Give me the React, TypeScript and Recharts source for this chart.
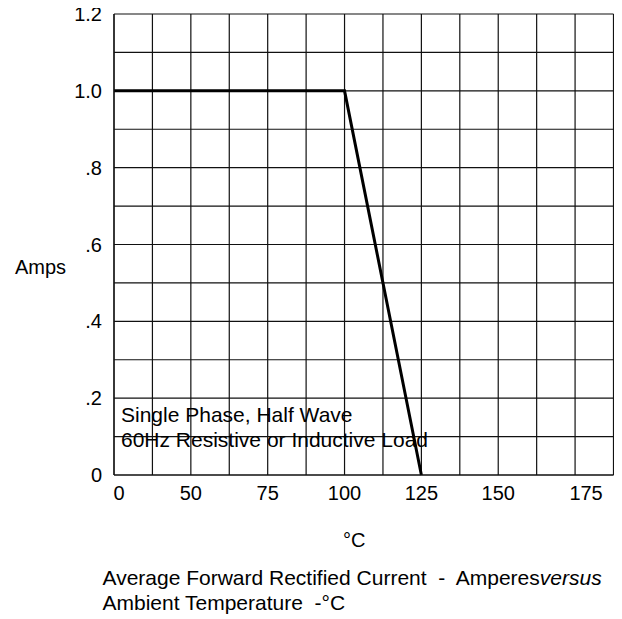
import { LineChart, Line, XAxis, YAxis, CartesianGrid } from 'recharts';

// derating curve: current vs ambient temperature
const temps = [25, 100, 125];
const amps = [1.0, 1.0, 0];

// grid steps (12.5 °C, 0.1 A)
const xGrid = [25, 37.5, 50, 62.5, 75, 87.5, 100, 112.5, 125, 137.5, 150, 162.5, 175, 187.5];
const yGrid = [0, 0.1, 0.2, 0.3, 0.4, 0.5, 0.6, 0.7, 0.8, 0.9, 1.0, 1.1, 1.2];

// labelled ticks (the left edge is marked "0" on the original sheet)
const xLabelAt = [25, 50, 75, 100, 125, 150, 175];
const xLabelText = ['0', '50', '75', '100', '125', '150', '175'];
const yLabelAt = [0, 0.2, 0.4, 0.6, 0.8, 1.0, 1.2];
const yLabelText = ['0', '.2', '.4', '.6', '.8', '1.0', '1.2'];

const data = temps.map((t, i) => ({ t, a: amps[i] }));

const FONT = '"Liberation Sans", Arial, sans-serif';
const xNudge: Record<string, number> = { '0': 5, '175': 11 };

const findLabel = (at: number[], text: string[], v: number) => {
  const i = at.findIndex((a) => Math.abs(a - v) < 1e-6);
  return i < 0 ? '' : text[i];
};

const XTick = (props: any) => {
  const { x, y, payload } = props;
  const label = findLabel(xLabelAt, xLabelText, payload.value);
  if (!label) return null;
  return (
    <text x={x + (xNudge[label] || 0)} y={y} dy="0.71em" textAnchor="middle" fill="#000" fontSize={20} fontFamily={FONT}>
      {label}
    </text>
  );
};

const YTick = (props: any) => {
  const { x, y, payload } = props;
  const label = findLabel(yLabelAt, yLabelText, payload.value);
  if (!label) return null;
  return (
    <text x={x} y={y} dy="0.355em" textAnchor="end" fill="#000" fontSize={20} fontFamily={FONT}>
      {label}
    </text>
  );
};

export default function App() {
  return (
    <div style={{ position: 'relative', width: 622, height: 619, margin: '-8px 0 0 -8px', fontFamily: FONT }}>
      <LineChart width={622} height={508} data={data} margin={{ top: 14, right: 8.5, bottom: 0, left: 0 }}>
        <CartesianGrid stroke="#111" strokeWidth={1.2} />
        <XAxis
          dataKey="t"
          type="number"
          domain={[25, 187.5]}
          ticks={xGrid}
          interval={0}
          height={33}
          tickLine={false}
          tickSize={0}
          tickMargin={11}
          axisLine={{ stroke: '#111', strokeWidth: 1.2 }}
          tick={<XTick />}
        />
        <YAxis
          type="number"
          domain={[0, 1.2]}
          ticks={yGrid}
          interval={0}
          width={114}
          tickLine={false}
          tickSize={0}
          tickMargin={12}
          axisLine={{ stroke: '#111', strokeWidth: 1.2 }}
          tick={<YTick />}
        />
        <Line
          type="linear"
          dataKey="a"
          stroke="#000"
          strokeWidth={3}
          dot={false}
          isAnimationActive={false}
        />
      </LineChart>
      <svg
        width={622}
        height={619}
        style={{ position: 'absolute', left: 0, top: 0, pointerEvents: 'none' }}
        fontFamily={FONT}
        fontSize={21}
        fill="#000"
      >
        <text x={15} y={274} fontSize={20}>Amps</text>
        <text x={121} y={421.5}>Single Phase, Half Wave</text>
        <text x={121} y={447}>60Hz Resistive or Inductive Load</text>
        <text x={343} y={547} fontSize={20}>°C</text>
        <text x={102.5} y={585} xmlSpace="preserve">
          Average Forward Rectified Current  -  Amperes<tspan fontStyle="italic">versus</tspan>
        </text>
        <text x={102.5} y={610} xmlSpace="preserve">Ambient Temperature  -°C</text>
      </svg>
    </div>
  );
}
